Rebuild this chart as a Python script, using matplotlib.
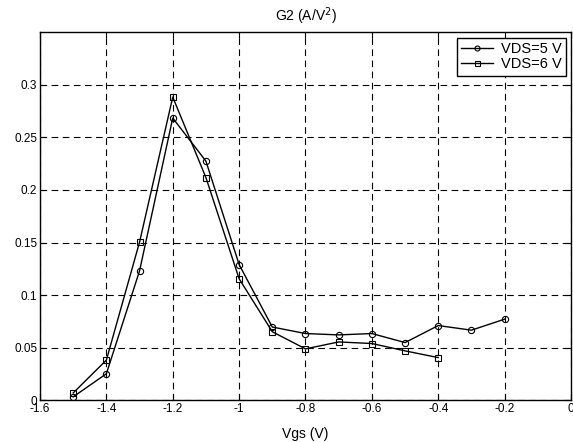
import matplotlib
matplotlib.use("Agg")
import matplotlib.pyplot as plt

plt.rcParams['font.family'] = ['Liberation Sans', 'DejaVu Sans']

vgs5 = [-1.5, -1.4, -1.3, -1.2, -1.1, -1.0, -0.9, -0.8, -0.7, -0.6, -0.5, -0.4, -0.3, -0.2]
g2_vds5 = [0.003, 0.025, 0.123, 0.2685, 0.2275, 0.129, 0.0695, 0.0633, 0.062, 0.0633, 0.0547, 0.0709, 0.0665, 0.077]
vgs6 = [-1.5, -1.4, -1.3, -1.2, -1.1, -1.0, -0.9, -0.8, -0.7, -0.6, -0.5, -0.4]
g2_vds6 = [0.0067, 0.038, 0.1504, 0.2885, 0.2118, 0.1155, 0.065, 0.0487, 0.0553, 0.0538, 0.0468, 0.0404]

xticks = [-1.6, -1.4, -1.2, -1.0, -0.8, -0.6, -0.4, -0.2, 0.0]
xticklabels = ['-1.6', '-1.4', '-1.2', '-1', '-0.8', '-0.6', '-0.4', '-0.2', '0']
yticks = [0, 0.05, 0.1, 0.15, 0.2, 0.25, 0.3]
yticklabels = ['0', '0.05', '0.1', '0.15', '0.2', '0.25', '0.3']

fig = plt.figure(figsize=(5.73, 4.42), dpi=100)
ax = fig.add_axes([0.0698, 0.095, 0.9267, 0.8315])

ax.plot(vgs5, g2_vds5, color='black', lw=1.0, marker='o', ms=4.5, mfc='none', mec='black', mew=0.8, label='VDS=5 V')
ax.plot(vgs6, g2_vds6, color='black', lw=1.0, marker='s', ms=4.5, mfc='none', mec='black', mew=0.8, label='VDS=6 V')

ax.set_xlim(-1.6, 0)
ax.set_ylim(0, 0.35)
ax.set_xticks(xticks)
ax.set_xticklabels(xticklabels)
ax.set_yticks(yticks)
ax.set_yticklabels(yticklabels)
ax.tick_params(direction='in', labelsize=8.5, length=4, top=True, right=True, pad=2)
ax.grid(True, color='black', linestyle=(0, (6, 4)), linewidth=0.8)
for s in ax.spines.values():
    s.set_linewidth(1.0)

ax.set_xlabel('Vgs (V)', fontsize=10, labelpad=9)
ax.set_title('G2 (A/V$^2$)', fontsize=10, pad=8)

leg = ax.legend(loc='upper right', fontsize=10.5, fancybox=False, framealpha=1,
                edgecolor='black', handlelength=2.2, borderaxespad=0.35,
                handletextpad=0.5, borderpad=0.3, labelspacing=0.1, markerscale=0.8)
leg.get_frame().set_linewidth(1.0)

fig.savefig('out.png', dpi=100)
